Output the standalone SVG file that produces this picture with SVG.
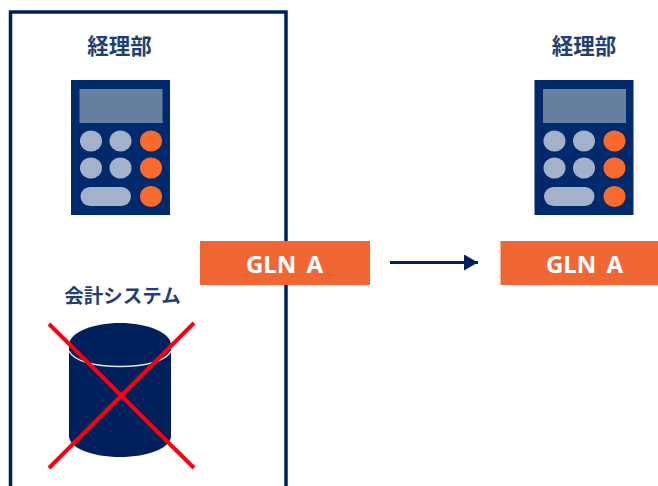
<svg xmlns="http://www.w3.org/2000/svg" width="658" height="486" viewBox="0 0 658 486">
<style>
.t{font-family:"Noto Sans CJK JP","Noto Sans",sans-serif;font-weight:700;fill:#1f3f73;text-anchor:middle}
.g{font-family:"Noto Sans","Liberation Sans",sans-serif;font-weight:700;font-size:24px;word-spacing:4px;fill:#fff;text-anchor:middle}
.o{fill:#f26633}
.k{fill:#a3b1cb}
.h{fill:#f96a2e}
.x{stroke:#fa0010;stroke-width:4;fill:none}
</style>
<defs>
<marker id="a" markerUnits="userSpaceOnUse" markerWidth="15" markerHeight="16" refX="14" refY="8" orient="auto"><path d="M0 0L14 8L0 16Z" fill="#00205c"/></marker>
<g id="calc">
<rect x="71" y="80" width="99" height="135" fill="#002a6c"/>
<rect x="79.500" y="89" width="83" height="34" fill="#65809f"/>
<ellipse class="k" cx="91" cy="141" rx="11" ry="10.500"/>
<ellipse class="k" cx="120.500" cy="141" rx="11" ry="10.500"/>
<ellipse class="h" cx="151" cy="141" rx="11" ry="10.500"/>
<ellipse class="k" cx="91" cy="168" rx="11" ry="10.500"/>
<ellipse class="k" cx="120.500" cy="168" rx="11" ry="10.500"/>
<ellipse class="h" cx="151" cy="168" rx="11" ry="10.500"/>
<rect class="k" x="80.500" y="187" width="50.500" height="19" rx="9.500"/>
<ellipse class="h" cx="151" cy="196.500" rx="11" ry="10.500"/>
</g>
</defs>
<g id="frame"><path d="M10.500 486V12H286V486" fill="none" stroke="#00205c" stroke-width="3.500"/></g>
<g id="node-keiri-left"><text class="t" x="119.500" y="54" font-size="21.500">経理部</text><use href="#calc"/></g>
<g id="node-system">
<text class="t" x="122.500" y="303" font-size="19.500">会計システム</text>
<path d="M69 345C69 333 92 323 120 323S171 333 171 345V436C171 448 148 457 120 457S69 448 69 436Z" fill="#00205c"/>
<path d="M69 351C74 361 94 366.500 120 366.500S166 361 171 351" fill="none" stroke="#dfe5ee" stroke-width="1.500"/>
<path class="x" d="M49 324L194 468M194 323L49 468"/>
</g>
<g id="node-gln-left"><rect class="o" x="200" y="241" width="170" height="44"/><text class="g" x="284.500" y="272.500">GLN A</text></g>
<g id="connectors"><path d="M390 262.500H478" stroke="#00205c" stroke-width="3" fill="none" marker-end="url(#a)"/></g>
<g id="node-keiri-right"><text class="t" x="584" y="54" font-size="21.500">経理部</text><use href="#calc" x="463.500"/></g>
<g id="node-gln-right"><rect class="o" x="500.500" y="241" width="157.500" height="44"/><text class="g" x="584.500" y="272.500">GLN A</text></g>
</svg>
